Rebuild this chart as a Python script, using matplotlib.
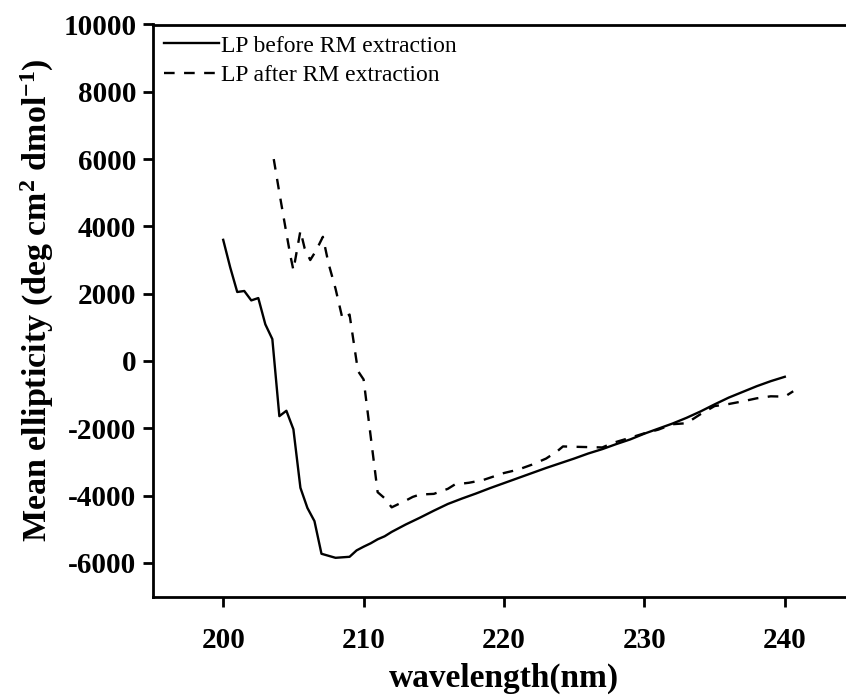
import matplotlib
matplotlib.use("Agg")
import matplotlib.pyplot as plt

# --- data ---
wl_before = [200.0, 200.5, 201.0, 201.5, 202.0, 202.5, 203.0, 203.5, 204.0, 204.5,
             205.0, 205.5, 206.0, 206.5, 207.0, 208.0, 209.0, 209.5, 210.0, 210.5,
             211.0, 211.5, 212.0, 212.5, 213.0, 214.0, 215.0, 216.0, 217.0, 218.0,
             219.0, 220.0, 221.0, 222.0, 223.0, 224.0, 225.0, 226.0, 227.0, 228.0,
             229.0, 230.0, 231.0, 232.0, 233.0, 234.0, 235.0, 236.0, 237.0, 238.0,
             239.0, 240.0]
ell_before = [3600, 2780, 2050, 2080, 1800, 1870, 1090, 650, -1640, -1480,
              -2030, -3770, -4370, -4760, -5730, -5850, -5820, -5630, -5520, -5420,
              -5300, -5210, -5080, -4970, -4860, -4660, -4450, -4250, -4090, -3940,
              -3780, -3630, -3480, -3330, -3180, -3040, -2900, -2750, -2620, -2470,
              -2330, -2160, -2010, -1860, -1690, -1500, -1290, -1090, -920, -750,
              -600, -470]

wl_after = [203.6, 204.0, 204.5, 204.8, 205.0, 205.5, 205.8, 206.2, 206.6, 207.1,
            207.5, 208.0, 208.5, 209.0, 209.6, 210.0, 211.0, 211.5, 212.0, 213.0,
            213.5, 214.0, 215.0, 216.0, 216.5, 217.5, 218.5, 219.0, 220.0, 221.0,
            222.0, 223.0, 223.8, 224.2, 225.0, 226.0, 227.0, 227.8, 229.0, 230.0,
            231.0, 232.0, 233.0, 234.0, 235.0, 236.0, 237.0, 238.0, 239.0, 240.0,
            240.6]
ell_after = [6000, 5000, 3800, 3100, 2700, 3870, 3350, 3000, 3270, 3690,
             2900, 2150, 1250, 1380, -300, -550, -3900, -4080, -4350, -4150,
             -4040, -3970, -3950, -3800, -3670, -3620, -3540, -3470, -3330, -3230,
             -3080, -2900, -2680, -2540, -2550, -2560, -2570, -2430, -2280, -2150,
             -2040, -1880, -1850, -1580, -1340, -1280, -1200, -1110, -1050, -1060,
             -900]

labels = ["LP before RM extraction", "LP after RM extraction"]
xticks = [200, 210, 220, 230, 240]
yticks = [-6000, -4000, -2000, 0, 2000, 4000, 6000, 8000, 10000]

plt.rcParams['font.family'] = ['Liberation Serif', 'DejaVu Serif']
plt.rcParams['mathtext.default'] = 'regular'

fig = plt.figure(figsize=(8.46, 6.98), dpi=100)
ax = fig.add_axes([153/846, 1 - 596.5/698, 702/846, 572/698])

ax.plot(wl_before, ell_before, color='black', lw=1.7, label=labels[0])
ax.plot(wl_after, ell_after, color='black', lw=1.7, linestyle=(0, (4.5, 4)), label=labels[1])

ax.set_xlim(195, 245)
ax.set_ylim(-7000, 10000)
ax.set_xticks(xticks)
ax.set_yticks(yticks)
ax.set_xticklabels([str(t) for t in xticks], fontsize=21, fontweight='bold')
ax.set_yticklabels([str(t) for t in yticks], fontsize=21, fontweight='bold')

for s in ['left', 'bottom', 'top', 'right']:
    ax.spines[s].set_linewidth(2.0)
ax.tick_params(axis='both', direction='out', length=7, width=2.0)
ax.tick_params(axis='x', pad=15)
ax.tick_params(axis='y', pad=5)

ax.set_xlabel('wavelength(nm)', fontsize=24, fontweight='bold')
ax.xaxis.set_label_coords(0.5, (596.5 - 694) / 572, transform=ax.transAxes)
ax.xaxis.label.set_va('bottom')
ax.set_ylabel('Mean ellipticity (deg cm$^{2}$ dmol$^{-1}$)', fontsize=24.5,
              fontweight='bold')
ax.yaxis.set_label_coords((37 - 153) / 702, (596.5 - 300) / 572, transform=ax.transAxes)
ax.yaxis.label.set_va('center')

leg = ax.legend(loc='upper left', bbox_to_anchor=(0.0, 1.0), frameon=False,
                fontsize=17, handlelength=2.35, handletextpad=0.1,
                labelspacing=0.35, borderaxespad=0.35, borderpad=0.1)

fig.savefig('out.png', dpi=100)
